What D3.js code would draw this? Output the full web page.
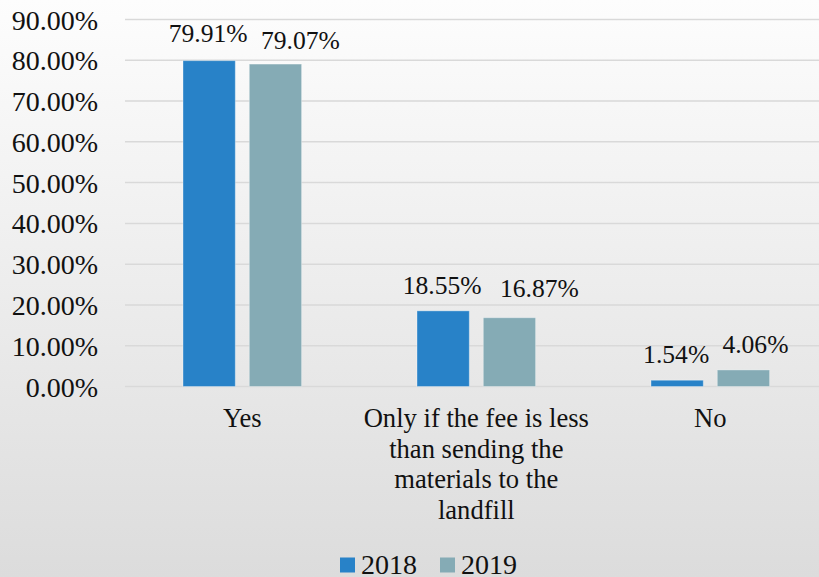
<!DOCTYPE html>
<html><head><meta charset="utf-8">
<script src="https://cdn.jsdelivr.net/npm/d3@7"></script>
<style>html,body{margin:0;padding:0;overflow:hidden;background:#fff}svg{display:block}</style>
</head><body>
<svg id="chart" width="819" height="577"></svg>
<script>
const categories = ["Yes", "Only if the fee is less than sending the materials to the landfill", "No"];
const seriesNames = ["2018", "2019"];
const values2018 = [0.7991, 0.1855, 0.0154];
const values2019 = [0.7907, 0.1687, 0.0406];
const yTicks = [0, 0.1, 0.2, 0.3, 0.4, 0.5, 0.6, 0.7, 0.8, 0.9];

const FONT = '"Liberation Serif", Tinos, serif';
const colors = {"2018": "#2882c8", "2019": "#85abb5"};
const W = 819, H = 577;
const svg = d3.select("#chart").style("font-family", FONT);

const defs = svg.append("defs");
const grad = defs.append("linearGradient").attr("id", "bg").attr("x1", 0).attr("y1", 0).attr("x2", 0).attr("y2", 1);
grad.append("stop").attr("offset", "0%").attr("stop-color", "#fdfdfd");
grad.append("stop").attr("offset", "100%").attr("stop-color", "#dcdcdc");
svg.append("rect").attr("width", W).attr("height", H).attr("fill", "url(#bg)");

const x0 = d3.scaleBand().domain(categories).range([125.3, 827.3]).paddingInner(0).paddingOuter(0);
const x1 = d3.scaleBand().domain(seriesNames)
  .range([x0.bandwidth() / 2 - 59.3, x0.bandwidth() / 2 + 59.3]).paddingInner(0.211).paddingOuter(0);
const y = d3.scaleLinear().domain([0, 0.9]).range([386.5, 19.5]);

// gridlines
svg.append("g").selectAll("line").data(yTicks).join("line")
  .attr("x1", 125).attr("x2", W)
  .attr("y1", d => y(d)).attr("y2", d => y(d))
  .attr("stroke", "#d9d9d9").attr("stroke-width", 1.5);

// y axis labels
const yAxis = d3.axisLeft(y).tickValues(yTicks).tickFormat(d3.format(".2%")).tickSize(0).tickPadding(0);
const gy = svg.append("g").attr("transform", "translate(98,0)").call(yAxis);
gy.attr("font-family", null).attr("font-size", null);
gy.select(".domain").remove();
gy.selectAll("text").style("font-family", FONT).style("font-size", "28px").attr("fill", "#111").attr("dy", "0.34em");

const rows = categories.map((c, i) => ({cat: c, vals: [
  {s: "2018", v: values2018[i]}, {s: "2019", v: values2019[i]}]}));

// label nudges (layout only) [dx, gapAbove]
const nudge = {"2018": [[-1, 19], [-1, 17], [-1, 17.5]], "2019": [[25, 15], [30, 20.5], [12, 17]]};

const groups = svg.append("g").selectAll("g").data(rows).join("g")
  .attr("transform", d => `translate(${x0(d.cat)},0)`);
groups.selectAll("rect").data(d => d.vals).join("rect")
  .attr("x", d => x1(d.s)).attr("width", x1.bandwidth())
  .attr("y", d => y(d.v)).attr("height", d => y(0) - y(d.v))
  .attr("fill", d => colors[d.s])
  .attr("stroke", "rgba(255,255,255,0.35)").attr("stroke-width", 1);
groups.each(function(d, i) {
  d3.select(this).selectAll("text.val").data(d.vals).join("text").attr("class", "val")
    .attr("x", v => x1(v.s) + x1.bandwidth() / 2 + nudge[v.s][i][0])
    .attr("y", v => y(v.v) - nudge[v.s][i][1])
    .attr("text-anchor", "middle").style("font-size", "25.6px").style("font-family", FONT).attr("fill", "#111")
    .text(v => d3.format(".2%")(v.v));
});

// category labels with wrapping
const lineH = 30.5;
categories.forEach(c => {
  const words = c.split(" ");
  const lines = [];
  let cur = "";
  const tmp = svg.append("text").style("font-size", "26.6px").style("font-family", FONT).attr("visibility", "hidden");
  words.forEach(w => {
    const test = cur ? cur + " " + w : w;
    tmp.text(test);
    if (tmp.node().getComputedTextLength() > 232 && cur) { lines.push(cur); cur = w; }
    else cur = test;
  });
  lines.push(cur);
  tmp.remove();
  const t = svg.append("text").attr("text-anchor", "middle").style("font-size", "26.6px").style("font-family", FONT).attr("fill", "#111");
  lines.forEach((l, k) => {
    t.append("tspan").attr("x", x0(c) + x0.bandwidth() / 2).attr("y", 427 + k * lineH).text(l);
  });
});

// legend
const legend = svg.append("g");
const legX = [340, 440];
seriesNames.forEach((s, i) => {
  legend.append("rect").attr("x", legX[i]).attr("y", 557.5).attr("width", 15).attr("height", 15).attr("fill", colors[s]);
  legend.append("text").attr("x", legX[i] + 21).attr("y", 573.5).style("font-size", "28px").style("font-family", FONT).attr("fill", "#111").text(s);
});
</script>
</body></html>
